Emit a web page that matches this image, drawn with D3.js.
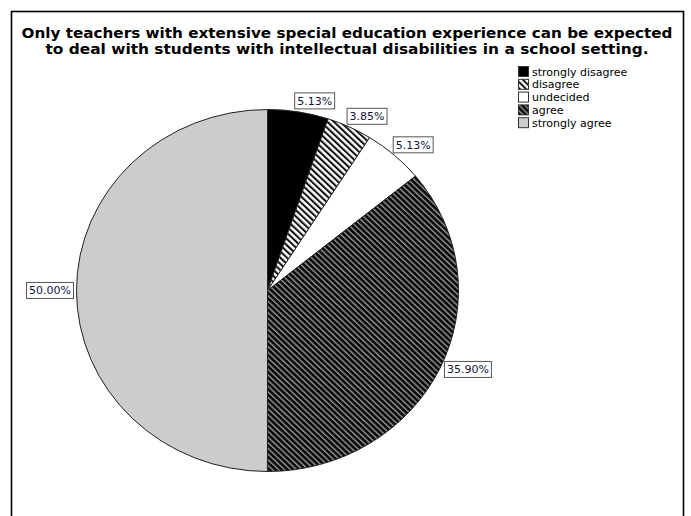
<!DOCTYPE html>
<html>
<head>
<meta charset="utf-8">
<script src="https://cdn.jsdelivr.net/npm/d3@7"></script>
<style>
  html, body { margin: 0; padding: 0; background: #fff; }
  svg { display: block; }
</style>
</head>
<body>
<svg id="chart" width="691" height="516"></svg>
<script>
// Response categories, clockwise from 12 o'clock
const categories = ["strongly disagree", "disagree", "undecided", "agree", "strongly agree"];
// Share of respondents (%)
const percents = [5.13, 3.85, 5.13, 35.90, 50.00];
// Printed value labels
const valueLabels = ["5.13%", "3.85%", "5.13%", "35.90%", "50.00%"];
const titleLines = [
  "Only teachers with extensive special education experience can be expected",
  "to deal with students with intellectual disabilities in a school setting."
];

const svg = d3.select("#chart");

// Hatch patterns
const defs = svg.append("defs");
const hatchLight = defs.append("pattern")
  .attr("id", "hatch-light").attr("patternUnits", "userSpaceOnUse")
  .attr("width", 4.4).attr("height", 4.4)
  .attr("patternTransform", "rotate(-45)");
hatchLight.append("rect").attr("width", 4.4).attr("height", 4.4).attr("fill", "#fff");
hatchLight.append("rect").attr("width", 2).attr("height", 4.4).attr("fill", "#111");

const hatchDark = defs.append("pattern")
  .attr("id", "hatch-dark").attr("patternUnits", "userSpaceOnUse")
  .attr("width", 4).attr("height", 4)
  .attr("patternTransform", "rotate(-45)");
hatchDark.append("rect").attr("width", 4).attr("height", 4).attr("fill", "#0a0a0a");
hatchDark.append("rect").attr("width", 1.3).attr("height", 4).attr("fill", "#9a9a9a");

const fills = ["#000000", "url(#hatch-light)", "#ffffff", "url(#hatch-dark)", "#cccccc"];
const color = d3.scaleOrdinal().domain(categories).range(fills);

// Outer frame
svg.append("rect")
  .attr("x", 11.5).attr("y", 11.5)
  .attr("width", 672).attr("height", 530)
  .attr("fill", "none").attr("stroke", "#000").attr("stroke-width", 1.6);

// Title
const title = svg.append("g")
  .attr("font-family", "'DejaVu Sans', sans-serif")
  .attr("font-weight", "bold").attr("font-size", 14.6)
  .attr("text-anchor", "middle").attr("fill", "#000");
const titleWidths = [651, 603];
titleLines.forEach((t, i) => {
  title.append("text")
    .attr("x", 347).attr("y", 38 + i * 16)
    .attr("textLength", titleWidths[i])
    .attr("lengthAdjust", "spacingAndGlyphs")
    .text(t);
});

// Pie (slightly wider than tall)
const cx = 267.5, cy = 290.5, rx = 191, ry = 181;
const pie = d3.pie().sort(null).value(d => d.value);
const data = categories.map((c, i) => ({ cat: c, value: percents[i], label: valueLabels[i] }));
const arcs = pie(data);
const arc = d3.arc().innerRadius(0).outerRadius(ry);

const pieG = svg.append("g")
  .attr("transform", `translate(${cx},${cy}) scale(${rx / ry},1)`);
pieG.selectAll("path.slice")
  .data(arcs)
  .join("path")
  .attr("class", "slice")
  .attr("d", arc)
  .attr("fill", d => color(d.data.cat))
  .attr("stroke", "#222")
  .attr("stroke-width", 1)
  .attr("vector-effect", "non-scaling-stroke");

// Value labels in boxes, placed just outside the rim at each slice's mid angle
const labelG = svg.append("g")
  .attr("font-family", "'DejaVu Sans', sans-serif")
  .attr("font-size", 11).attr("fill", "#14143a");
arcs.forEach(d => {
  const a = (d.startAngle + d.endAngle) / 2;
  const s = Math.sin(a), c = Math.cos(a);
  const px = cx + (rx + 3) * s;
  const py = cy - (ry + 3) * c;
  const g = labelG.append("g");
  const txt = g.append("text").attr("x", 0).attr("y", 0).text(d.data.label);
  const bb = txt.node().getBBox();
  const bw = bb.width + 5, bh = 16;
  const f = c > 0.6 ? 1 : (c < -0.6 ? -1 : 0);
  const left = s >= 0 ? px - 4 * c : px - bw;
  const top = py - bh / 2 - (bh / 2) * f;
  g.insert("rect", "text")
    .attr("x", left).attr("y", top)
    .attr("width", bw).attr("height", bh)
    .attr("fill", "#fff").attr("stroke", "#555").attr("stroke-width", 1);
  txt.attr("x", left + 2.5).attr("y", top + 12);
});

// Legend
const legend = svg.append("g")
  .attr("font-family", "'DejaVu Sans', sans-serif")
  .attr("font-size", 11).attr("fill", "#000");
const legendY = d3.scaleBand().domain(categories).range([66, 66 + 12.8 * categories.length]);
categories.forEach(c => {
  const y = legendY(c);
  legend.append("rect")
    .attr("x", 518.5).attr("y", y + 0.5)
    .attr("width", 10).attr("height", 10)
    .attr("fill", color(c)).attr("stroke", "#333").attr("stroke-width", 1);
  legend.append("text")
    .attr("x", 532).attr("y", y + 9.5)
    .text(c);
});
</script>
</body>
</html>
